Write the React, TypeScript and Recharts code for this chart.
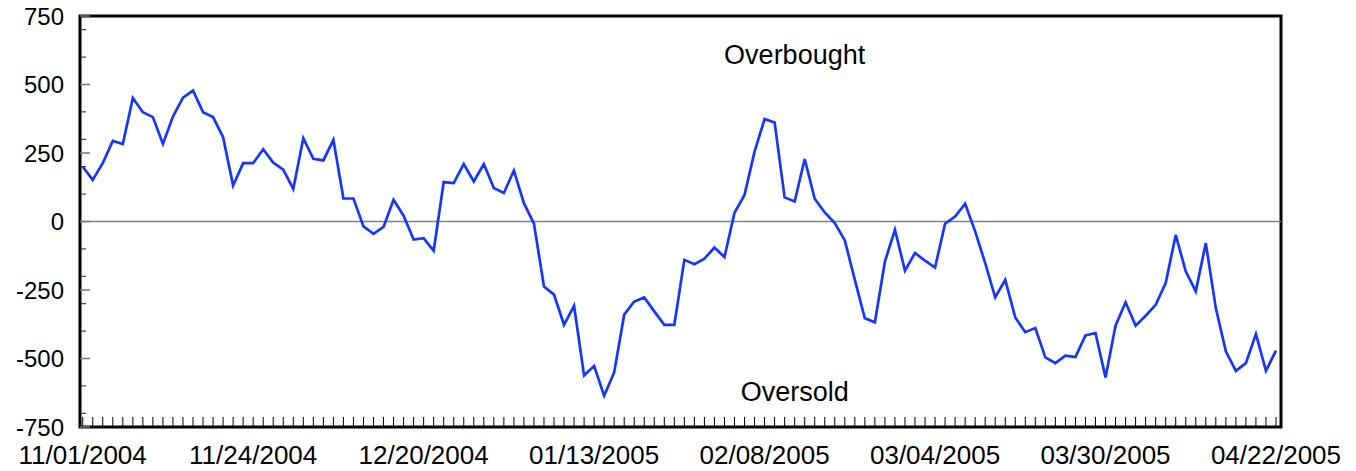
import React from "react";
import { LineChart, Line, XAxis, YAxis, ReferenceLine, ReferenceArea, ReferenceDot } from "recharts";

const oscillator: number[] = [
  200, 152, 213, 294, 283, 451, 399, 381, 283, 383,
  452, 478, 399, 381, 308, 131, 213, 213, 264, 215,
  189, 119, 304, 229, 223, 298, 84, 84, -18, -45,
  -20, 79, 21, -66, -61, -107, 144, 140, 210, 146,
  210, 122, 104, 186, 67, -8, -237, -267, -377, -308,
  -562, -527, -636, -551, -340, -292, -277, -328, -377, -377,
  -140, -156, -136, -95, -130, 32, 97, 255, 374, 361,
  88, 73, 228, 83, 33, -6, -69, -213, -353, -368,
  -146, -30, -179, -115, -143, -168, -8, 18, 65, -36,
  -152, -277, -213, -350, -404, -389, -496, -517, -490, -495,
  -416, -407, -569, -380, -295, -380, -344, -304, -225, -49,
  -182, -255, -79, -316, -474, -545, -517, -411, -545, -471,
];

const dateLabels: string[] = [
  "11/01/2004", "11/24/2004", "12/20/2004", "01/13/2005",
  "02/08/2005", "03/04/2005", "03/30/2005", "04/22/2005",
];
const labelIndices: number[] = [0, 17, 34, 51, 68, 85, 102, 119];

const yMajorTicks: number[] = [-750, -500, -250, 0, 250, 500, 750];
const yMinorTicks: number[] = [-700, -600, -400, -300, -200, -100, 100, 200, 300, 400, 600, 700];

const annotations = [
  { text: "Overbought", x: 71, y: 610 },
  { text: "Oversold", x: 71, y: -620 },
];

const data = oscillator.map((v, i) => ({ i, v }));
const xTicks = oscillator.map((_, i) => i);
const yTicks = [...yMajorTicks, ...yMinorTicks].sort((a, b) => a - b);

const FONT = "'Liberation Sans', Arial, Helvetica, sans-serif";

const XTick = (props: any) => {
  const { x, y, payload } = props;
  const idx = labelIndices.indexOf(payload.value);
  return (
    <g>
      <line x1={x} x2={x} y1={y} y2={y - 10} stroke="#000" strokeWidth={1} />
      {idx >= 0 && (
        <text x={x} y={y + 37} textAnchor="middle" fontSize={26} fontFamily={FONT} fill="#000">
          {dateLabels[idx]}
        </text>
      )}
    </g>
  );
};

const YTick = (props: any) => {
  const { x, y, payload } = props;
  const major = yMajorTicks.includes(payload.value);
  return (
    <g>
      <line
        x1={x}
        x2={x + (major ? 10 : 6)}
        y1={y}
        y2={y}
        stroke={major ? "#777" : "#222"}
        strokeWidth={major ? 1.5 : 1}
      />
      {major && (
        <text x={x - 16} y={y} dy="0.355em" textAnchor="end" fontSize={24} fontFamily={FONT} fill="#000">
          {payload.value}
        </text>
      )}
    </g>
  );
};

export default function App() {
  return (
    <div style={{ position: "absolute", left: 0, top: 0, width: 1356, height: 471, background: "#fff" }}>
      <LineChart width={1356} height={471} data={data} margin={{ top: 16, right: 75, left: 0, bottom: 0 }}>
        <XAxis
          dataKey="i"
          type="number"
          domain={[-0.27, 119.5]}
          ticks={xTicks}
          interval={0}
          height={44}
          tickLine={false}
          axisLine={false}
          tickSize={0}
          tickMargin={0}
          tick={<XTick />}
        />
        <YAxis
          type="number"
          domain={[-750, 750]}
          ticks={yTicks}
          interval={0}
          width={80}
          tickLine={false}
          axisLine={false}
          tickSize={0}
          tickMargin={0}
          tick={<YTick />}
        />
        <ReferenceLine y={0} stroke="#808080" strokeWidth={1.5} />
        <Line
          type="linear"
          dataKey="v"
          stroke="#1436ff"
          strokeWidth={2.7}
          dot={false}
          isAnimationActive={false}
        />
        {annotations.map((a) => (
          <ReferenceDot
            key={a.text}
            x={a.x}
            y={a.y}
            r={0}
            fill="none"
            stroke="none"
            label={{ value: a.text, position: "center", fontSize: 27, fontFamily: FONT, fill: "#000" }}
          />
        ))}
        <ReferenceArea
          x1={-0.27}
          x2={119.5}
          y1={-750}
          y2={750}
          fill="none"
          fillOpacity={0}
          stroke="#000"
          strokeWidth={3}
        />
      </LineChart>
    </div>
  );
}
